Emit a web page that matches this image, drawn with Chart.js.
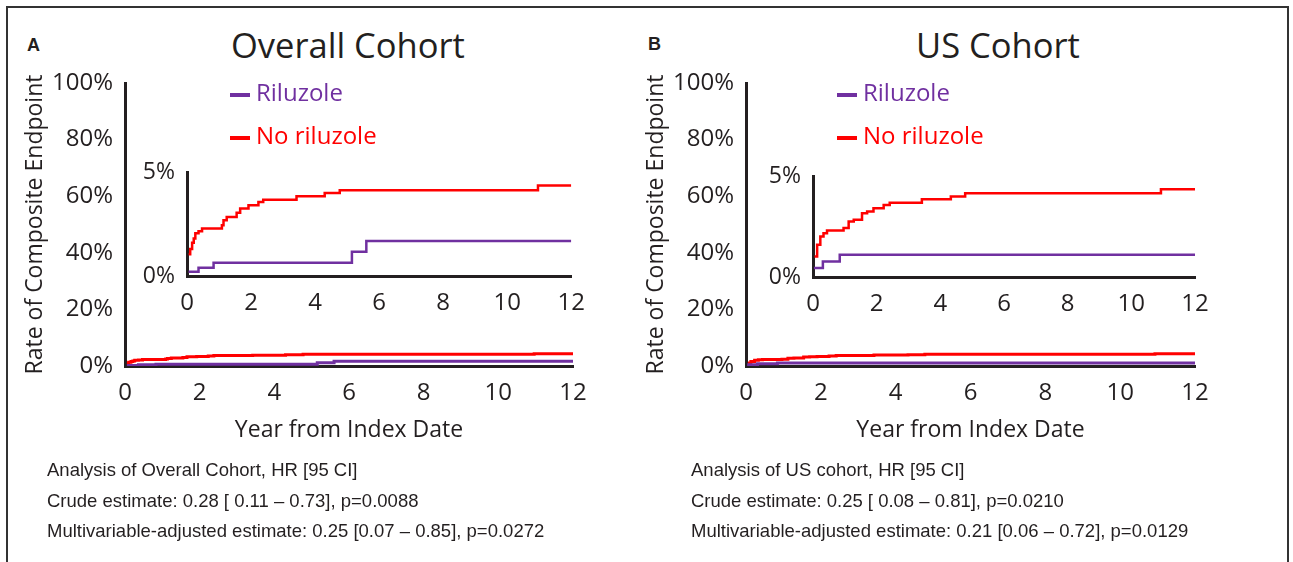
<!DOCTYPE html>
<html>
<head>
<meta charset="utf-8">
<script src="https://cdn.jsdelivr.net/npm/chart.js@4.4.1/dist/chart.umd.min.js"></script>
<style>
  body { margin: 0; width: 1293px; height: 562px; background: #fff; position: relative; overflow: hidden; font-family: "Open Sans", sans-serif; color: #231f20; }
  .frame { position: absolute; left: 6px; top: 6px; width: 1279px; height: 620px; border: 2px solid #333; }
  canvas { position: absolute; }
  .abs { position: absolute; white-space: nowrap; }
  .panel { font-family: "Liberation Sans", Arial, sans-serif; font-weight: bold; font-size: 18px; }
  .title { font-size: 34.5px; }
  .legend { font-size: 24px; line-height: 24px; }
  .legend i { display: inline-block; width: 20px; height: 4px; margin-right: 6px; vertical-align: middle; }
  .stats { font-family: "Liberation Sans", Arial, sans-serif; font-size: 18.5px; line-height: 30.5px; }
</style>
</head>
<body>
<div class="frame"></div>

<div class="abs panel" style="left:27px;top:35px">A</div>
<div class="abs panel" style="left:648px;top:34px">B</div>
<div class="abs title" style="left:231px;top:21px">Overall Cohort</div>
<div class="abs title" style="left:916px;top:21px">US Cohort</div>

<canvas id="overallMain" width="600" height="400" style="left:0px;top:60px"></canvas>
<canvas id="overallInset" width="460" height="170" style="left:130px;top:150px"></canvas>
<canvas id="usMain" width="600" height="400" style="left:621px;top:60px"></canvas>
<canvas id="usInset" width="460" height="170" style="left:756px;top:150px"></canvas>

<div class="abs legend" style="left:230px;top:80px;color:#7030a0"><i style="background:#7030a0"></i>Riluzole</div>
<div class="abs legend" style="left:230px;top:123px;color:#ff0000"><i style="background:#ff0000"></i>No riluzole</div>
<div class="abs legend" style="left:837px;top:80px;color:#7030a0"><i style="background:#7030a0"></i>Riluzole</div>
<div class="abs legend" style="left:837px;top:123px;color:#ff0000"><i style="background:#ff0000"></i>No riluzole</div>

<div class="abs stats" style="left:47px;top:455px">Analysis of Overall Cohort, HR [95 CI]<br>Crude estimate: 0.28 [ 0.11 – 0.73], p=0.0088<br>Multivariable-adjusted estimate: 0.25 [0.07 – 0.85], p=0.0272</div>
<div class="abs stats" style="left:691px;top:455px">Analysis of US cohort, HR [95 CI]<br>Crude estimate: 0.25 [ 0.08 – 0.81], p=0.0210<br>Multivariable-adjusted estimate: 0.21 [0.06 – 0.72], p=0.0129</div>

<script>
// tick labels
const xTicks = [0, 2, 4, 6, 8, 10, 12];
const yTicksMain = [0, 20, 40, 60, 80, 100];
const yTicksInset = [0, 5];

// overall cohort, % with composite endpoint by year
const overallRilYears = [0.05, 0.36, 0.83, 5.15, 5.6, 12];
const overallRilRate = [0.21, 0.4, 0.64, 1.17, 1.68, 1.68];
const overallNoYears = [0.05, 0.1, 0.16, 0.21, 0.26, 0.36, 0.47, 1.09, 1.14, 1.24, 1.55, 1.66, 1.92, 2.23, 2.38, 3.42, 4.3, 4.77, 10.96, 12];
const overallNoRate = [1.04, 1.3, 1.6, 1.8, 2.05, 2.15, 2.28, 2.44, 2.68, 2.84, 3.04, 3.24, 3.4, 3.56, 3.67, 3.83, 3.99, 4.12, 4.35, 4.35];

// US cohort
const usRilYears = [0.03, 0.31, 0.84, 12];
const usRilRate = [0.44, 0.77, 1.1, 1.1];
const usNoYears = [0.05, 0.13, 0.23, 0.33, 0.44, 0.96, 1.12, 1.28, 1.54, 1.7, 1.9, 2.22, 2.41, 3.42, 4.33, 4.78, 10.93, 12];
const usNoRate = [1.02, 1.6, 2.0, 2.17, 2.3, 2.42, 2.75, 2.83, 3.16, 3.24, 3.4, 3.57, 3.68, 3.85, 3.98, 4.14, 4.34, 4.34];

const ink = "#231f20";
const purple = "#7030a0";
const red = "#ff0000";

Chart.defaults.font.family = "'Open Sans', sans-serif";
Chart.defaults.color = ink;

function points(xs, ys) {
  return xs.map((x, i) => ({ x: x, y: ys[i] }));
}

function makePlot(id, c) {
  return new Chart(document.getElementById(id), {
    type: "line",
    data: {
      datasets: [
        { data: points(c.rilX, c.rilY), borderColor: purple, borderWidth: c.line, stepped: true, pointRadius: 0, fill: false },
        { data: points(c.noX, c.noY), borderColor: red, borderWidth: c.line, stepped: true, pointRadius: 0, fill: false },
      ],
    },
    options: {
      responsive: false,
      animation: false,
      layout: { padding: c.pad },
      plugins: { legend: { display: false }, tooltip: { enabled: false } },
      scales: {
        x: {
          type: "linear",
          min: 0,
          max: 12,
          grid: { display: false },
          border: { color: ink, width: 3 },
          afterBuildTicks: (s) => { s.ticks = xTicks.map((v) => ({ value: v })); },
          afterFit: (s) => { s.height = c.xh; },
          ticks: { font: { size: 24 }, padding: 5, maxRotation: 0, autoSkip: false },
          title: c.main
            ? { display: true, text: "Year from Index Date", font: { size: 23 }, padding: { top: 0, bottom: 16 } }
            : { display: false },
        },
        y: {
          min: 0,
          max: c.ymax,
          grid: { display: false },
          border: { color: ink, width: 3 },
          afterBuildTicks: (s) => { s.ticks = c.yTicks.map((v) => ({ value: v })); },
          afterFit: (s) => { s.width = c.yw; },
          ticks: { font: { size: c.main ? 24 : 23 }, padding: 4, callback: (v) => v + "%" },
          title: c.main
            ? { display: true, text: "Rate of Composite Endpoint", font: { size: 23 }, padding: { top: 22, bottom: 0 } }
            : { display: false },
        },
      },
    },
  });
}

makePlot("overallMain", {
  main: true, line: 3, ymax: 100, yTicks: yTicksMain,
  pad: { top: 23, right: 27, left: 0, bottom: 0 }, yw: 125, xh: 94,
  rilX: overallRilYears, rilY: overallRilRate, noX: overallNoYears, noY: overallNoRate,
});
makePlot("overallInset", {
  main: false, line: 2.5, ymax: 5, yTicks: yTicksInset,
  pad: { top: 22, right: 17, left: 0, bottom: 0 }, yw: 57, xh: 44,
  rilX: overallRilYears, rilY: overallRilRate, noX: overallNoYears, noY: overallNoRate,
});
makePlot("usMain", {
  main: true, line: 3, ymax: 100, yTicks: yTicksMain,
  pad: { top: 23, right: 26, left: 0, bottom: 0 }, yw: 125, xh: 94,
  rilX: usRilYears, rilY: usRilRate, noX: usNoYears, noY: usNoRate,
});
makePlot("usInset", {
  main: false, line: 2.5, ymax: 5, yTicks: yTicksInset,
  pad: { top: 26, right: 21, left: 0, bottom: 0 }, yw: 57, xh: 43,
  rilX: usRilYears, rilY: usRilRate, noX: usNoYears, noY: usNoRate,
});
</script>
</body>
</html>
